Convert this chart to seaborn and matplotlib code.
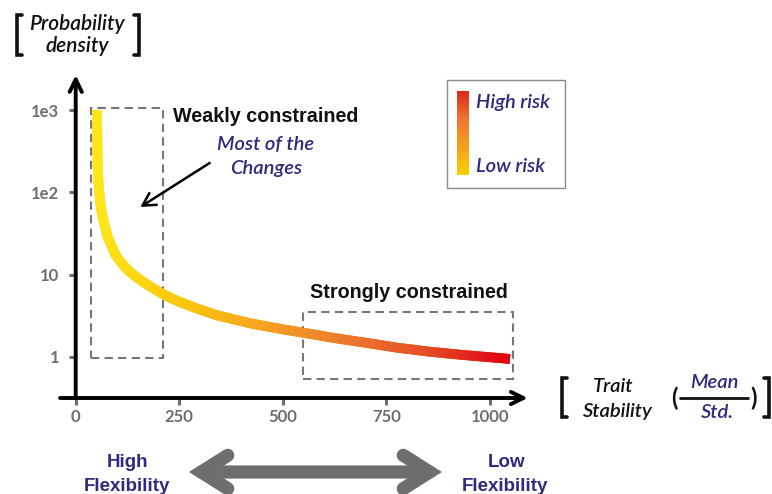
import numpy as np
import matplotlib
matplotlib.use('Agg')
import matplotlib.pyplot as plt
import seaborn as sns
from matplotlib.collections import LineCollection
from matplotlib.colors import LinearSegmentedColormap
from matplotlib.patches import Rectangle, FancyArrowPatch
from matplotlib.lines import Line2D

# curve: trait stability (mean/std) vs probability density
stability = [51, 52, 53, 55, 58.6, 63, 70.7, 78, 87, 97, 111, 125, 143, 160,
             181, 205, 232, 260, 290, 340, 421, 501, 582, 620, 700, 775, 855,
             935, 1048]
density = [1000, 520, 205, 130, 80, 55, 38, 28, 22, 17, 13.7, 11.4, 9.6, 8.3,
           7.1, 6.0, 5.1, 4.46, 3.9, 3.2, 2.55, 2.15, 1.84, 1.7, 1.48, 1.29,
           1.15, 1.05, 0.94]

x_ticks = [0, 250, 500, 750, 1000]
y_ticks = [1, 10, 100, 1000]
y_tick_labels = ['1', '10', '1e2', '1e3']

NAVY = '#2e2b7f'
GRAY = '#6e6e6e'
W, H = 772, 494

sns.set_theme(style='white')
plt.rcParams['font.family'] = ['Lato', 'DejaVu Sans']
ITAL = dict(family=['Lato', 'DejaVu Sans'], style='italic', weight='semibold')
BOLD = ['Liberation Sans', 'DejaVu Sans']


def fx(x):
    return x / W


def fy(y):
    return 1 - y / H


fig = plt.figure(figsize=(W / 100, H / 100), dpi=100)
# axes box in pixels: left 60, right 530, top 75, bottom 398
ax = fig.add_axes([fx(60), fy(398), 470 / W, 323 / H])
ax.set_yscale('log')

risk = LinearSegmentedColormap.from_list(
    'risk', ['#ffe619', '#fcc80a', '#f5a322', '#ec7a2e', '#e54c26', '#e00012'])

# base line (fills the joints), then gradient on top
sns.lineplot(x=stability, y=density, ax=ax, color='#fdd40e', lw=7,
             solid_capstyle='butt', solid_joinstyle='round')

# split each straight piece (straight in x / log-y) into short bits for a smooth colour ramp
xs, ly = np.array(stability, float), np.log10(density)
bits = []
for i in range(len(xs) - 1):
    t = np.linspace(0, 1, 13)
    bx = xs[i] + (xs[i + 1] - xs[i]) * t
    by = 10 ** (ly[i] + (ly[i + 1] - ly[i]) * t)
    bits.append(np.column_stack([bx, by]))
pts = np.vstack([b if k == 0 else b[1:] for k, b in enumerate(bits)])
n = len(pts)
# overlapping bits (i -> i+2) so no seams show between them
segs = [pts[[i, min(i + 2, n - 1)]] for i in range(n - 1)]
mid = (pts[:-1, 0] + pts[1:, 0]) / 2
norm = (mid - xs[0]) / (xs[-1] - xs[0])
lc = LineCollection(segs, colors=risk(norm), linewidths=7, capstyle='butt', zorder=3)
ax.add_collection(lc)

ax.set_xlim(-37.9, 1096.3)
ax.set_ylim(0.3148, 2673)

# dashed boxes
ax.add_patch(Rectangle((36, 0.956), 174, 1052 - 0.956, fill=False, ec='#777777',
                       lw=1.5, ls=(0, (4, 2.5)), zorder=2))
ax.add_patch(Rectangle((548, 0.535), 507, 3.53 - 0.535, fill=False, ec='#777777',
                       lw=1.5, ls=(0, (4, 2.5)), zorder=2))

# axes as arrows
for s in ax.spines.values():
    s.set_visible(False)
ax.spines['left'].set_position(('data', 0))
arrow_kw = dict(arrowstyle='->,head_length=0.45,head_width=0.22', lw=2.8,
                color='black', mutation_scale=20, shrinkA=0, shrinkB=0)
ax.annotate('', xy=(0, 1), xytext=(0, 0), xycoords=ax.get_xaxis_transform(),
            arrowprops=arrow_kw, annotation_clip=False)
ax.annotate('', xy=(1091, 0), xytext=(-37.9, 0), xycoords=ax.get_xaxis_transform(),
            arrowprops=arrow_kw, annotation_clip=False)

ax.set_xticks(x_ticks)
ax.set_yticks(y_ticks)
ax.set_yticklabels(y_tick_labels)
ax.yaxis.set_minor_locator(matplotlib.ticker.NullLocator())
ax.tick_params(axis='both', which='major', direction='out', length=5, width=2.2,
               color=GRAY, labelcolor=GRAY, labelsize=12)
ax.tick_params(axis='y', pad=7, left=True)
ax.tick_params(axis='x', pad=3, bottom=True)
for lab in ax.get_xticklabels() + ax.get_yticklabels():
    lab.set_fontweight('bold')
ax.grid(False)

# annotation arrow toward the steep part
fig.add_artist(FancyArrowPatch((fx(212), fy(161.5)), (fx(138), fy(208.5)),
                               transform=fig.transFigure,
                               arrowstyle='->,head_length=0.45,head_width=0.25',
                               mutation_scale=20, lw=1.8, color='black'))

fig.text(fx(173), fy(122), 'Weakly constrained', family=BOLD, weight='bold',
         size=14.2, color='#111111', va='baseline')
fig.text(fx(266), fy(150), 'Most of the', size=14.5, color=NAVY, ha='center',
         va='baseline', **ITAL)
fig.text(fx(266), fy(174), 'Changes', size=14.5, color=NAVY, ha='center',
         va='baseline', **ITAL)
fig.text(fx(310), fy(298), 'Strongly constrained', family=BOLD, weight='bold',
         size=14.2, color='#111111', va='baseline')

# y label with brackets
fig.text(fx(77), fy(30), 'Probability', size=15, color='#111111', ha='center',
         va='baseline', **ITAL)
fig.text(fx(77), fy(52), 'density', size=15, color='#111111', ha='center',
         va='baseline', **ITAL)


def bracket(x, y0, y1, side):
    d = 5 if side == 'left' else -5
    fig.add_artist(Line2D([fx(x + d), fx(x), fx(x), fx(x + d)],
                          [fy(y0), fy(y0), fy(y1), fy(y1)],
                          transform=fig.transFigure, color='#111111', lw=2.6,
                          solid_joinstyle='miter'))


bracket(16.5, 15, 55, 'left')
bracket(138.5, 15, 55, 'right')
bracket(561.5, 378, 417, 'left')
bracket(768.5, 378, 417, 'right')

# x label
fig.text(fx(613), fy(392), 'Trait', size=14.5, color='#111111', ha='center',
         va='baseline', **ITAL)
fig.text(fx(618), fy(417), 'Stability', size=14.5, color='#111111', ha='center',
         va='baseline', **ITAL)
fig.text(fx(674), fy(398), '(', size=17, weight='bold', color='#111111',
         ha='center', va='center')
fig.text(fx(754), fy(398), ')', size=17, weight='bold', color='#111111',
         ha='center', va='center')
fig.add_artist(Line2D([fx(680), fx(748)], [fy(397.5), fy(397.5)],
                      transform=fig.transFigure, color='#111111', lw=2))
fig.text(fx(714), fy(388), 'Mean', size=14.5, color=NAVY, ha='center',
         va='baseline', **ITAL)
fig.text(fx(717), fy(418), 'Std.', size=14.5, color=NAVY, ha='center',
         va='baseline', **ITAL)

# risk legend
fig.add_artist(Rectangle((fx(447), fy(188)), 118 / W, 108 / H,
                         transform=fig.transFigure, fill=False, ec='#8a8a8a', lw=1))
cax = fig.add_axes([fx(457), fy(175), 12 / W, 84 / H])
bar_cmap = LinearSegmentedColormap.from_list(
    'bar', ['#fdd000', '#f5a020', '#ef7530', '#d8261c'])
cax.imshow(np.linspace(0, 1, 100)[:, None], cmap=bar_cmap, aspect='auto',
           origin='lower')
cax.set_axis_off()
fig.text(fx(476), fy(108), 'High risk', size=14.5, color=NAVY, va='baseline', **ITAL)
fig.text(fx(476), fy(172), 'Low risk', size=14.5, color=NAVY, va='baseline', **ITAL)

# flexibility arrow
fig.add_artist(FancyArrowPatch((fx(189), fy(472)), (fx(442), fy(472)),
                               transform=fig.transFigure,
                               arrowstyle='<->,head_length=0.95,head_width=0.6',
                               mutation_scale=20, lw=9.5, color=GRAY,
                               shrinkA=0, shrinkB=0, joinstyle='miter'))
fig.text(fx(127), fy(467), 'High', family=BOLD, weight='bold', size=13.5,
         color=NAVY, ha='center', va='baseline')
fig.text(fx(127), fy(491), 'Flexibility', family=BOLD, weight='bold', size=13.5,
         color=NAVY, ha='center', va='baseline')
fig.text(fx(507), fy(467), 'Low', family=BOLD, weight='bold', size=13.5,
         color=NAVY, ha='center', va='baseline')
fig.text(fx(505), fy(491), 'Flexibility', family=BOLD, weight='bold', size=13.5,
         color=NAVY, ha='center', va='baseline')

fig.savefig('out.png', dpi=100)
